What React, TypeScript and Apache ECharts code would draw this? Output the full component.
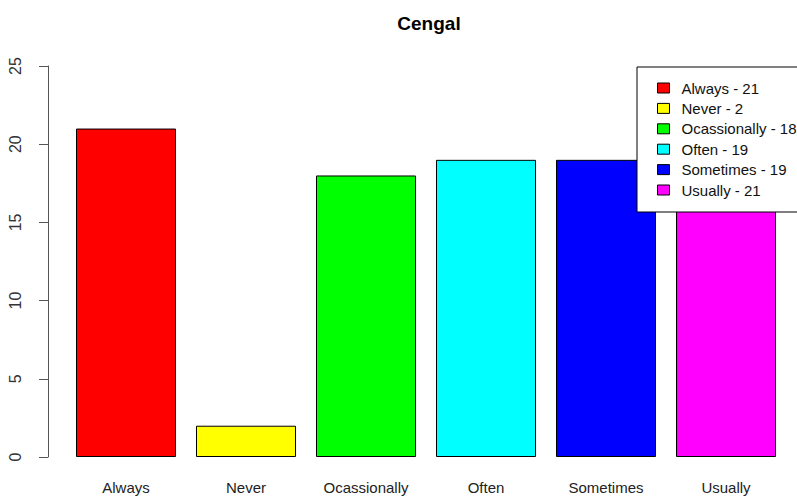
import React, { useEffect, useRef } from "react";
import * as echarts from "echarts";

const title = "Cengal";
const categories = ["Always", "Never", "Ocassionally", "Often", "Sometimes", "Usually"];
const counts = [21, 2, 18, 19, 19, 21];
const colors = ["#FF0000", "#FFFF00", "#00FF00", "#00FFFF", "#0000FF", "#FF00FF"];
const yTicks = [0, 5, 10, 15, 20, 25];

const FONT = "'Liberation Sans', Arial, sans-serif";

export default function App() {
  const ref = useRef<HTMLDivElement>(null);
  useEffect(() => {
    document.body.style.margin = "0";
    if (!ref.current) return;
    const chart = echarts.init(ref.current, null, { renderer: "svg" });
    const series = categories.map((c, i) => ({
      type: "bar",
      name: `${c} - ${counts[i]}`,
      stack: "all",
      barWidth: 100,
      z: 2,
      data: categories.map((_, j) => (j === i ? counts[i] : "-")),
      itemStyle: { color: colors[i], borderColor: "#000", borderWidth: 1 },
    }));
    chart.setOption({
      animation: false,
      backgroundColor: "#fff",
      title: {
        text: title,
        left: 424,
        textAlign: "center",
        top: 9,
        textStyle: { fontFamily: FONT, fontSize: 19, fontWeight: "bold", color: "#000" },
      },
      grid: { left: 66, width: 720, top: 66, bottom: 40, containLabel: false },
      xAxis: {
        type: "category",
        data: categories,
        axisLine: { show: false },
        axisTick: { show: false },
        axisLabel: { fontFamily: FONT, fontSize: 15, color: "#222", margin: 23, interval: 0 },
      },
      yAxis: {
        type: "value",
        min: yTicks[0],
        max: yTicks[yTicks.length - 1],
        interval: 5,
        offset: 18,
        axisLine: { show: true, lineStyle: { color: "#555", width: 1 } },
        axisTick: { show: true, length: 9, lineStyle: { color: "#555" } },
        splitLine: { show: false },
        axisLabel: { fontFamily: FONT, fontSize: 16, color: "#333", rotate: 90, margin: 25 },
      },
      legend: {
        orient: "vertical",
        left: 652,
        top: 73,
        z: 20,
        icon: "rect",
        itemWidth: 12,
        itemHeight: 10,
        itemGap: 0.4,
        itemStyle: { borderColor: "#000", borderWidth: 1 },
        textStyle: { fontFamily: FONT, fontSize: 15, color: "#111", lineHeight: 20, padding: [0, 0, 0, 7] },
        data: series.map((s) => s.name),
      },
      graphic: [
        {
          type: "rect",
          z: 10,
          shape: { x: 637, y: 67, width: 200, height: 145 },
          style: { fill: "#fff", stroke: "#000", lineWidth: 1 },
        },
      ],
      series,
    });
    return () => chart.dispose();
  }, []);
  return <div ref={ref} style={{ width: 797, height: 497 }} />;
}
